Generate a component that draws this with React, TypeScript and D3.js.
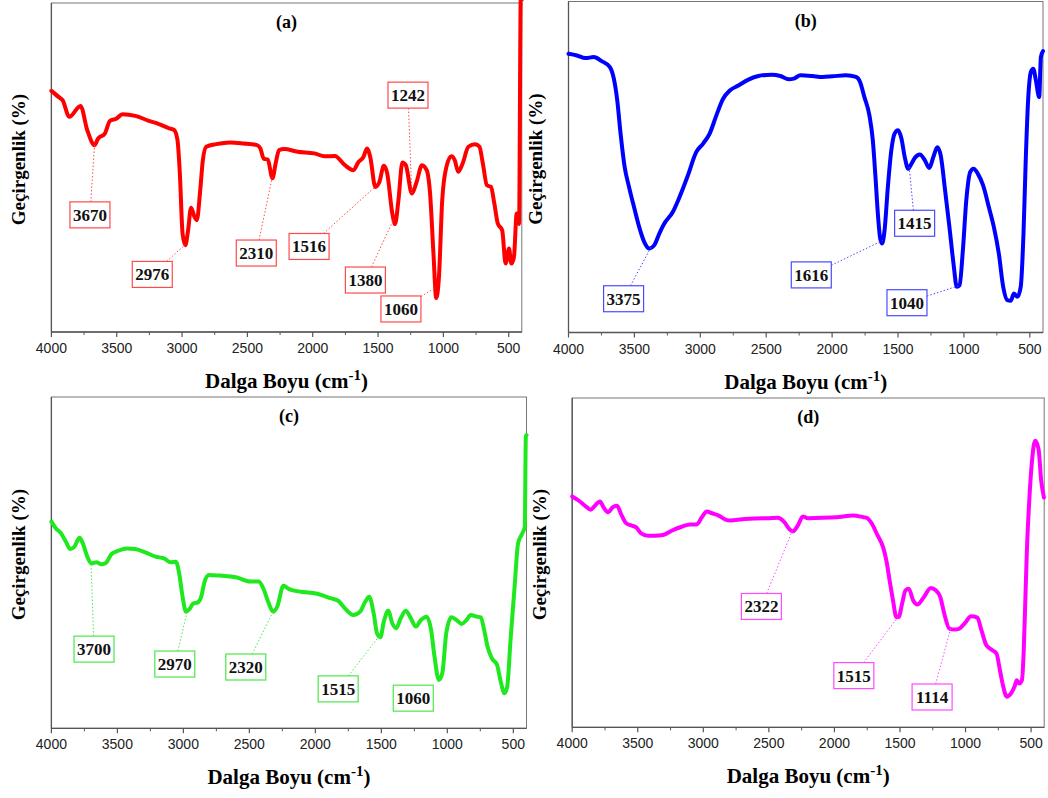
import React from 'react';
import * as d3 from 'd3';

// ---------- axis ticks ----------
const xMajorTicks = [4000, 3500, 3000, 2500, 2000, 1500, 1000, 500];
const xMinorTicks = [3750, 3250, 2750, 2250, 1750, 1250, 750];

// ---------- (a) ----------
const wnA = [4000, 3940, 3915, 3863, 3777, 3726, 3669, 3643, 3591, 3552, 3501, 3457, 3358, 3255, 3177, 3099, 3061, 3035, 3017, 2996, 2975, 2954, 2931, 2905, 2887, 2861, 2841, 2815, 2737, 2634, 2530, 2426, 2401, 2375, 2344, 2308, 2284, 2258, 2219, 2116, 1987, 1909, 1831, 1754, 1689, 1650, 1612, 1585, 1560, 1521, 1490, 1456, 1430, 1391, 1370, 1344, 1314, 1288, 1241, 1205, 1164, 1128, 1102, 1076, 1055, 1034, 1009, 977, 939, 913, 887, 853, 809, 757, 724, 698, 667, 636, 610, 584, 550, 524, 498, 480, 460, 439, 421, 408, 400];
const tA = [73.3, 71.3, 70.5, 65.4, 68.7, 61.4, 56.8, 58.8, 60.3, 64.2, 64.9, 66.2, 65.7, 64.2, 63.2, 61.9, 61.4, 58.3, 48.2, 29.9, 26.4, 30.9, 37.8, 35.0, 34.0, 43.1, 52.2, 56.3, 57.1, 57.6, 57.3, 56.8, 55.8, 52.7, 52.4, 46.7, 51.2, 55.3, 55.6, 54.8, 54.3, 53.4, 53.5, 50.7, 49.2, 51.7, 53.2, 55.8, 53.2, 44.1, 45.6, 50.5, 48.2, 36.0, 32.8, 40.1, 51.5, 50.7, 42.1, 45.6, 50.7, 49.2, 42.1, 23.8, 10.3, 16.7, 40.1, 50.2, 53.4, 52.2, 48.7, 51.2, 56.3, 57.1, 56.3, 51.2, 44.6, 44.1, 39.0, 33.0, 30.9, 20.8, 25.4, 20.8, 22.8, 36.0, 32.8, 101, 101];
const peaksA = [3670, 2976, 2310, 1516, 1380, 1060, 1242];

// ---------- (b) ----------
const wnB = [4000, 3936, 3872, 3809, 3745, 3686, 3656, 3630, 3605, 3574, 3541, 3503, 3464, 3426, 3388, 3349, 3311, 3273, 3209, 3158, 3094, 3031, 2980, 2929, 2878, 2827, 2776, 2712, 2635, 2559, 2457, 2393, 2329, 2291, 2240, 2150, 2074, 1997, 1895, 1819, 1788, 1755, 1717, 1691, 1671, 1653, 1635, 1620, 1602, 1577, 1551, 1526, 1500, 1474, 1449, 1423, 1398, 1372, 1334, 1296, 1263, 1232, 1202, 1176, 1143, 1110, 1079, 1054, 1033, 1008, 982, 952, 926, 895, 855, 811, 773, 735, 702, 671, 645, 620, 594, 569, 548, 531, 513, 492, 474, 454, 429, 416, 400];
const tB = [84.2, 83.7, 82.9, 83.2, 81.9, 80.2, 76.7, 70.1, 60.1, 50.0, 44.0, 37.9, 31.9, 27.4, 25.4, 26.4, 29.9, 32.9, 36.4, 40.9, 47.5, 54.5, 57.0, 60.1, 65.6, 70.6, 73.1, 74.6, 76.4, 77.5, 77.9, 77.5, 76.5, 76.7, 77.7, 77.5, 77.2, 77.4, 77.7, 77.2, 75.7, 71.1, 65.6, 58.0, 47.0, 35.9, 28.4, 26.9, 30.9, 44.0, 55.0, 60.1, 61.1, 58.6, 53.0, 49.5, 51.0, 52.8, 53.8, 52.0, 49.7, 53.0, 56.0, 53.5, 43.0, 31.9, 20.8, 13.8, 14.3, 24.8, 39.9, 48.5, 49.5, 48.0, 44.5, 37.9, 31.9, 23.8, 13.8, 9.8, 9.6, 11.8, 10.8, 13.8, 29.9, 52.0, 70.1, 78.7, 79.7, 76.2, 71.1, 83.2, 85.0];
const peaksB = [3375, 1616, 1415, 1040];

// ---------- (c) ----------
const wnC = [4000, 3967, 3928, 3890, 3857, 3826, 3787, 3762, 3728, 3698, 3659, 3621, 3590, 3544, 3493, 3429, 3365, 3288, 3211, 3147, 3096, 3057, 3032, 3006, 2980, 2955, 2924, 2891, 2865, 2839, 2806, 2724, 2596, 2493, 2429, 2391, 2353, 2319, 2289, 2242, 2199, 2109, 1994, 1879, 1827, 1776, 1712, 1661, 1622, 1592, 1558, 1533, 1507, 1481, 1448, 1417, 1387, 1353, 1315, 1276, 1238, 1200, 1156, 1123, 1097, 1064, 1038, 1008, 969, 931, 892, 854, 823, 777, 746, 721, 695, 662, 623, 598, 567, 546, 521, 490, 464, 431, 413, 405, 400];
const tC = [62.4, 60.4, 58.9, 56.3, 54.1, 54.8, 57.5, 55.8, 51.8, 49.8, 50.1, 49.5, 49.8, 52.6, 53.6, 54.3, 54.1, 53.1, 51.8, 51.3, 50.1, 50.3, 46.8, 39.7, 35.2, 35.9, 37.7, 38.0, 39.7, 44.3, 46.3, 46.1, 45.5, 44.3, 44.3, 41.9, 37.7, 35.2, 36.7, 43.0, 42.0, 41.2, 40.7, 39.2, 38.5, 36.2, 34.2, 35.2, 38.2, 39.7, 34.7, 28.7, 27.5, 32.2, 35.5, 31.7, 30.2, 33.2, 35.5, 33.2, 30.7, 32.7, 33.7, 29.7, 21.6, 14.6, 16.6, 28.7, 33.5, 32.7, 31.5, 32.7, 34.2, 33.7, 33.5, 29.7, 24.6, 21.1, 19.1, 14.6, 10.6, 12.6, 26.7, 42.8, 55.8, 58.9, 60.9, 88.0, 88.5];
const peaksC = [3700, 2970, 2320, 1515, 1060];

// ---------- (d) ----------
const wnD = [4000, 3949, 3897, 3859, 3820, 3789, 3761, 3725, 3692, 3658, 3628, 3589, 3551, 3512, 3474, 3422, 3371, 3307, 3242, 3165, 3101, 3050, 3011, 2973, 2934, 2883, 2831, 2793, 2703, 2600, 2498, 2433, 2382, 2344, 2318, 2279, 2241, 2202, 2087, 1984, 1856, 1779, 1753, 1714, 1676, 1629, 1604, 1579, 1553, 1528, 1510, 1484, 1458, 1433, 1399, 1368, 1317, 1265, 1227, 1193, 1162, 1124, 1085, 1046, 1008, 957, 910, 879, 841, 802, 764, 738, 712, 686, 653, 627, 609, 591, 570, 557, 544, 532, 514, 493, 469, 443, 423, 402];
const tD = [70.1, 68.8, 67.1, 66.1, 67.6, 68.6, 66.8, 65.3, 66.8, 67.3, 64.8, 62.0, 61.3, 60.7, 58.9, 58.2, 58.2, 58.4, 59.7, 60.9, 61.6, 61.6, 63.8, 65.5, 65.0, 64.3, 63.1, 62.8, 63.2, 63.4, 63.5, 63.6, 62.3, 60.2, 59.5, 61.3, 64.0, 63.5, 63.6, 63.8, 64.3, 63.8, 63.6, 61.8, 58.7, 54.7, 50.7, 44.6, 38.5, 33.5, 33.5, 37.5, 41.6, 42.1, 38.5, 37.3, 39.6, 42.3, 41.6, 39.6, 34.5, 30.0, 29.7, 30.0, 31.5, 33.7, 33.3, 29.5, 24.9, 23.6, 22.4, 17.4, 12.3, 9.3, 10.3, 12.3, 14.3, 13.3, 14.3, 22.4, 38.5, 53.7, 68.8, 80.9, 87.0, 84.5, 74.9, 69.8];
const peaksD = [2322, 1515, 1114];

// ---------- layout (label box centres, in data units) ----------
const layoutA = { rect: { l: 51.4, r: 521.8, t: 3, b: 332 }, boxWn: [3705, 3228, 2432, 2028, 1597, 1325, 1271], boxT: [35.6, 17.5, 24.0, 26.0, 15.8, 7.0, 72.0], leader: [1, 1, 1, 1, 1, 1, 1] };
const layoutB = { rect: { l: 568.5, r: 1043, t: 1.5, b: 332.5 }, boxWn: [3582, 2158, 1374, 1432], boxT: [10.2, 17.4, 33.0, 9.0], leader: [1, 1, 1, 1] };
const layoutC = { rect: { l: 51.4, r: 526.5, t: 397, b: 728.3 }, boxWn: [3677, 3065, 2527, 1827, 1258], boxT: [23.9, 19.4, 18.5, 11.9, 9.1], leader: [1, 1, 1, 1, 0] };
const layoutD = { rect: { l: 572.2, r: 1044.2, t: 398, b: 727.3 }, boxWn: [2557, 1852, 1255], boxT: [36.7, 15.7, 9.2], leader: [1, 1, 1] };

const SERIF = "'Liberation Serif', 'Times New Roman', serif";
const SANS = "'Liberation Sans', Arial, sans-serif";

function interp(wn: number[], t: number[], w: number) {
  for (let i = 0; i < wn.length - 1; i++) {
    if (wn[i] >= w && wn[i + 1] <= w) {
      const f = (wn[i] - w) / (wn[i] - wn[i + 1]);
      return t[i] + f * (t[i + 1] - t[i]);
    }
  }
  return t[t.length - 1];
}

function Panel({ title, wn, t, peaks, layout, color, boxColor }: any) {
  const { rect, boxWn, boxT, leader } = layout;
  const x = d3.scaleLinear().domain([4000, 400]).range([rect.l, rect.r]);
  const y = d3.scaleLinear().domain([0, 100]).range([rect.b, rect.t]);
  const pts: [number, number][] = wn.map((w: number, i: number) => [w, t[i]]);
  const line = d3.line<[number, number]>().x(d => x(d[0])).y(d => y(d[1])).curve(d3.curveMonotoneX);
  const axisColor = '#555';
  const cx = (rect.l + rect.r) / 2;
  const bw = 40, bh = 26;
  return (
    <g>
      <rect x={rect.l} y={rect.t} width={rect.r - rect.l} height={rect.b - rect.t} fill="none" stroke="#777" strokeWidth={1} />
      <line x1={rect.l} x2={rect.r} y1={rect.b} y2={rect.b} stroke={axisColor} strokeWidth={1.3} />
      <line x1={rect.l} x2={rect.l} y1={rect.t} y2={rect.b} stroke={axisColor} strokeWidth={1.3} />
      {xMajorTicks.map(v => (
        <g key={'M' + v}>
          <line x1={x(v)} x2={x(v)} y1={rect.b} y2={rect.b + 5} stroke={axisColor} strokeWidth={1.2} />
          <text x={x(v)} y={rect.b + 21} textAnchor="middle" fontFamily={SANS} fontSize={14} fill="#222">{v}</text>
        </g>
      ))}
      {xMinorTicks.map(v => (
        <line key={'m' + v} x1={x(v)} x2={x(v)} y1={rect.b} y2={rect.b + 3} stroke={axisColor} strokeWidth={1} />
      ))}
      <path d={line(pts) || ''} fill="none" stroke={color} strokeWidth={4} strokeLinejoin="round" strokeLinecap="round" />
      <text x={cx} y={rect.t + 25} textAnchor="middle" fontFamily={SERIF} fontWeight="bold" fontSize={18}>{title}</text>
      <text x={cx} y={rect.b + 56} textAnchor="middle" fontFamily={SERIF} fontWeight="bold" fontSize={21}>
        Dalga Boyu (cm<tspan dy={-8} fontSize={15}>-1</tspan><tspan dy={8}>)</tspan>
      </text>
      <text transform={`translate(${rect.l - 33},${(rect.t + rect.b) / 2 - 8}) rotate(-90)`} textAnchor="middle" dominantBaseline="central" fontFamily={SERIF} fontWeight="bold" fontSize={19}>Geçirgenlik (%)</text>
      {peaks.map((p: number, i: number) => {
        const bx = x(boxWn[i]);
        const by = y(boxT[i]);
        const tx = x(p);
        const ty = y(interp(wn, t, p));
        const dx = tx - bx, dy = ty - by;
        const s = Math.min(dx !== 0 ? (bw / 2) / Math.abs(dx) : Infinity, dy !== 0 ? (bh / 2) / Math.abs(dy) : Infinity);
        const sx = bx + dx * s, sy = by + dy * s;
        return (
          <g key={'p' + p}>
            {leader[i] ? <line x1={sx} y1={sy} x2={tx} y2={ty} stroke={boxColor} strokeWidth={1} strokeDasharray="1.5,2" /> : null}
            <rect x={bx - bw / 2} y={by - bh / 2} width={bw} height={bh} fill="#fff" stroke={boxColor} strokeWidth={1.2} />
            <text x={bx} y={by + 6} textAnchor="middle" fontFamily={SERIF} fontWeight="bold" fontSize={17} fill="#111">{p}</text>
          </g>
        );
      })}
    </g>
  );
}

export default function App() {
  return (
    <svg width={1048} height={798} style={{ position: 'absolute', left: 0, top: 0, background: '#fff' }}>
      <rect x={0} y={0} width={1048} height={798} fill="#fff" />
      <Panel title="(a)" wn={wnA} t={tA} peaks={peaksA} layout={layoutA} color="#ff0000" boxColor="#ff4a4a" />
      <Panel title="(b)" wn={wnB} t={tB} peaks={peaksB} layout={layoutB} color="#0000ff" boxColor="#4a4aff" />
      <Panel title="(c)" wn={wnC} t={tC} peaks={peaksC} layout={layoutC} color="#1fe81f" boxColor="#4ae84a" />
      <Panel title="(d)" wn={wnD} t={tD} peaks={peaksD} layout={layoutD} color="#ff00ff" boxColor="#ff4aff" />
    </svg>
  );
}
